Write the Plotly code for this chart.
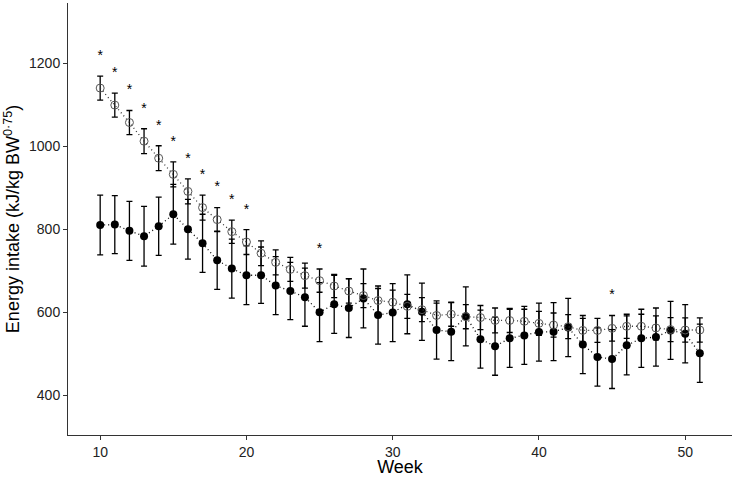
import plotly.graph_objects as go

weeks = list(range(10, 52))
open_vals = [1140, 1099, 1057, 1012, 971, 932, 891, 852, 823, 794, 769, 742, 720, 703, 688,
             676, 663, 651, 640, 628, 624, 614, 606, 592, 595, 589, 587, 580, 580, 578, 573,
             569, 565, 556, 556, 561, 566, 566, 562, 558, 557, 557]
open_err = [29, 29, 29, 30, 30, 30, 30, 30, 29, 28, 30, 30, 30, 29, 30, 28, 28, 29, 29, 29,
            29, 29, 29, 30, 29, 29, 29, 30, 29, 29, 29, 29, 29, 29, 29, 31, 29, 29, 29, 29, 29, 29]
filled_vals = [810, 811, 796, 783, 807, 836, 800, 766, 725, 705, 689, 689, 664, 651, 636,
               600, 619, 610, 633, 593, 599, 619, 601, 557, 553, 590, 535, 518, 537, 544, 552,
               553, 563, 522, 492, 487, 520, 537, 540, 556, 548, 501]
filled_err = [72, 70, 71, 72, 70, 72, 72, 70, 70, 71, 71, 68, 70, 69, 70, 71, 70, 71, 71, 70,
              70, 71, 69, 70, 70, 71, 70, 70, 70, 70, 70, 70, 70, 70, 70, 71, 71, 70, 70, 70, 70, 70]
star_weeks = [10, 11, 12, 13, 14, 15, 16, 17, 18, 19, 20, 25, 45]
star_vals = [1216, 1175, 1133, 1089, 1047, 1009, 969, 929, 900, 869, 846, 751, 639]

fig = go.Figure()
fig.add_trace(go.Scatter(
    x=weeks, y=filled_vals, mode="lines+markers",
    line=dict(color="black", width=1.3, dash="1px,3px"),
    marker=dict(symbol="circle", size=8, color="black"),
    error_y=dict(type="data", array=filled_err, visible=True, color="black", thickness=1.3, width=3),
    showlegend=False))
fig.add_trace(go.Scatter(
    x=weeks, y=open_vals, mode="lines+markers",
    line=dict(color="#333333", width=1.3, dash="1px,3px"),
    marker=dict(symbol="circle-open", size=8, color="#555555", line=dict(width=1)),
    error_y=dict(type="data", array=open_err, visible=True, color="black", thickness=1.3, width=3),
    showlegend=False))
fig.add_trace(go.Scatter(
    x=star_weeks, y=star_vals, mode="text", text=["*"] * len(star_weeks),
    textposition="middle center",
    textfont=dict(family="Liberation Sans, Arial", size=14, color="black"),
    showlegend=False, hoverinfo="skip"))

axis_common = dict(showgrid=False, zeroline=False, showline=True, linecolor="#333333",
                   linewidth=1, ticks="outside", ticklen=4, tickcolor="#333333", automargin=False,
                   tickfont=dict(family="Liberation Sans, Arial", size=14, color="#222222"))
fig.update_xaxes(range=[7.8, 53.2], tickvals=[10, 20, 30, 40, 50],
                 title=dict(text="Week", font=dict(family="Liberation Sans, Arial", size=18, color="black"), standoff=3),
                 **axis_common)
fig.update_yaxes(range=[304, 1345], tickvals=[400, 600, 800, 1000, 1200],
                 title=dict(text="Energy intake (kJ/kg BW<sup>0·75</sup>)",
                            font=dict(family="Liberation Sans, Arial", size=18, color="black"), standoff=4),
                 **axis_common)
fig.update_layout(width=735, height=477, margin=dict(l=68, r=3, t=3, b=42),
                  plot_bgcolor="white", paper_bgcolor="white")
fig.write_html("out.html", config={"displayModeBar": False},
               post_script="document.body.style.margin='0';document.body.style.overflow='hidden';")
